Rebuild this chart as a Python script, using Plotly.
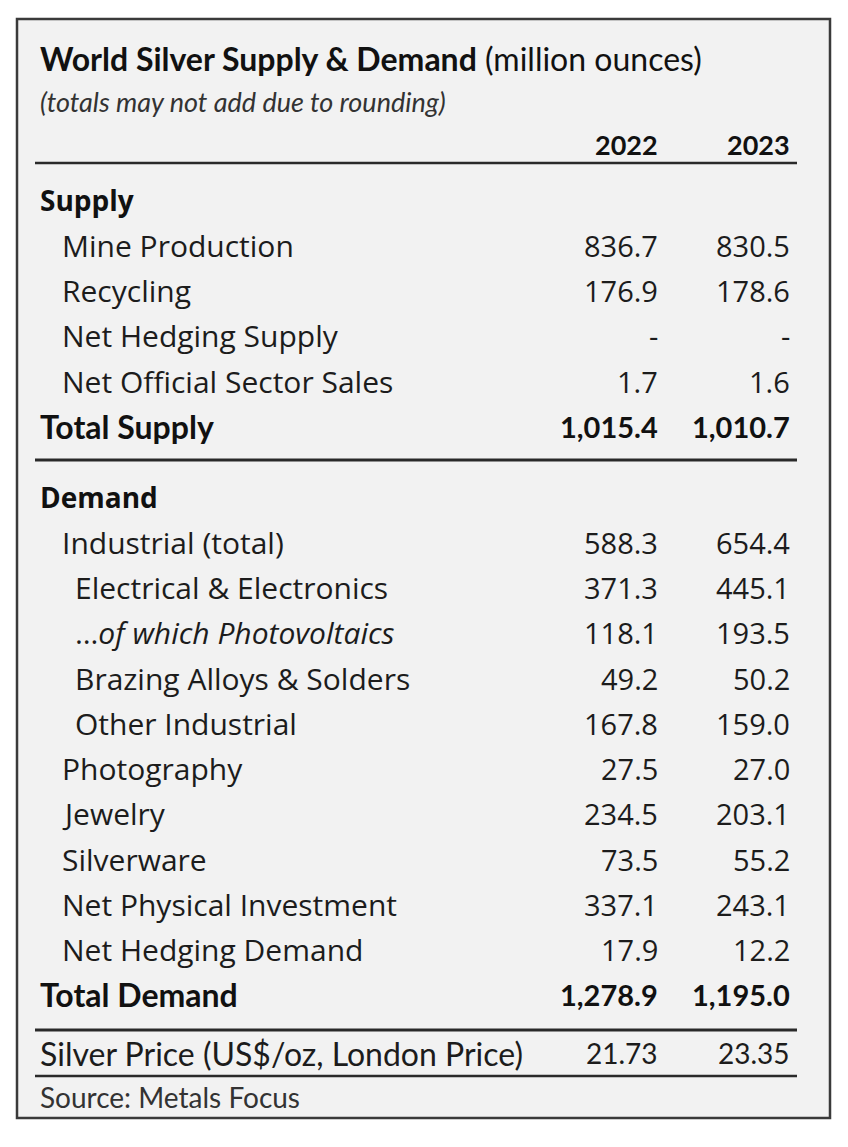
import plotly.graph_objects as go

# ---- data ----
years = ["2022", "2023"]
supply_labels = ["Mine Production", "Recycling", "Net Hedging Supply", "Net Official Sector Sales"]
supply_2022 = ["836.7", "176.9", "-", "1.7"]
supply_2023 = ["830.5", "178.6", "-", "1.6"]
total_supply = ["1,015.4", "1,010.7"]

demand_labels = ["Industrial (total)", "Electrical & Electronics", "...of which Photovoltaics",
                 "Brazing Alloys & Solders", "Other Industrial", "Photography", "Jewelry",
                 "Silverware", "Net Physical Investment", "Net Hedging Demand"]
demand_level = [1, 2, 2, 2, 2, 1, 1, 1, 1, 1]
demand_2022 = ["588.3", "371.3", "118.1", "49.2", "167.8", "27.5", "234.5", "73.5", "337.1", "17.9"]
demand_2023 = ["654.4", "445.1", "193.5", "50.2", "159.0", "27.0", "203.1", "55.2", "243.1", "12.2"]
total_demand = ["1,278.9", "1,195.0"]

price_label = "Silver Price (US$/oz, London Price)"
price = ["21.73", "23.35"]
source = "Source: Metals Focus"

W, H = 848, 1147
OFF = 8  # page body margin
TXT = "#1c1c1c"
BODY = "Open Sans"
HEAD = "Lato"
FS = 29
LFS = 30
X_LEFT = {0: 40, 1: 62, 2: 75}
X_COL = [658, 790]

fig = go.Figure()
ann = []
shapes = []

def text(x, y, s, size=FS, family=BODY, anchor="left", color=TXT):
    ann.append(dict(x=x, y=y, xref="x", yref="y", text=s, showarrow=False,
                    xanchor=anchor, yanchor="middle", borderpad=0, borderwidth=0,
                    font=dict(family=family, size=size, color=color)))

def hline(y, w):
    shapes.append(dict(type="line", xref="x", yref="y", x0=35, x1=797, y0=y, y1=y,
                       line=dict(color="#2a2a2a", width=w)))

# background box
shapes.append(dict(type="rect", xref="x", yref="y", x0=17, x1=830, y0=19, y1=1118,
                   fillcolor="#f2f2f2", line=dict(color="#3a3a3a", width=2.5), layer="below"))

text(40, 58, "<b>World Silver Supply & Demand</b> (million ounces)", size=32, family=HEAD, color="#111")
text(40, 101, "<i>(totals may not add due to rounding)</i>", size=27, family=HEAD, color="#333")
for j, yr in enumerate(years):
    text(X_COL[j], 144, "<b>" + yr + "</b>", size=27, family=HEAD, anchor="right", color="#111")
hline(163, 2.5)

step = 45.25
y0 = 200
text(40, y0, "<b>Supply</b>", size=28, family=BODY, color="#111")
for i, lab in enumerate(supply_labels):
    y = y0 + step * (i + 1)
    text(X_LEFT[1], y, lab, size=LFS)
    text(X_COL[0], y, supply_2022[i], anchor="right")
    text(X_COL[1], y, supply_2023[i], anchor="right")
y = y0 + step * (len(supply_labels) + 1)
text(40, y, "<b>Total Supply</b>", size=32, family=HEAD, color="#111")
for j in range(2):
    text(X_COL[j], y, "<b>" + total_supply[j] + "</b>", size=29, family=HEAD, anchor="right", color="#111")
hline(460, 3)

y0 = 497
text(40, y0, "<b>Demand</b>", size=28, family=BODY, color="#111")
for i, lab in enumerate(demand_labels):
    y = y0 + step * (i + 1)
    lab_s = lab if i != 2 else "…<i>of which Photovoltaics</i>"
    text(X_LEFT[demand_level[i]], y, lab_s, size=LFS)
    text(X_COL[0], y, demand_2022[i], anchor="right")
    text(X_COL[1], y, demand_2023[i], anchor="right")
y = y0 + step * (len(demand_labels) + 1)
text(40, y, "<b>Total Demand</b>", size=32, family=HEAD, color="#111")
for j in range(2):
    text(X_COL[j], y, "<b>" + total_demand[j] + "</b>", size=29, family=HEAD, anchor="right", color="#111")
hline(1030, 3)

text(40, 1053, price_label, size=32, family=HEAD)
for j in range(2):
    text(X_COL[j], 1053, price[j], size=28, family=HEAD, anchor="right")
hline(1076, 2.5)
text(40, 1097, source, size=28, family=HEAD, color="#333")

fig.update_layout(
    width=W, height=H, margin=dict(l=0, r=0, t=0, b=0),
    paper_bgcolor="white", plot_bgcolor="white",
    xaxis=dict(range=[OFF, W + OFF], visible=False, fixedrange=True),
    yaxis=dict(range=[H + OFF, OFF], visible=False, fixedrange=True),
    annotations=ann, shapes=shapes, showlegend=False,
)
fig.write_html("out.html", config={"displayModeBar": False})
